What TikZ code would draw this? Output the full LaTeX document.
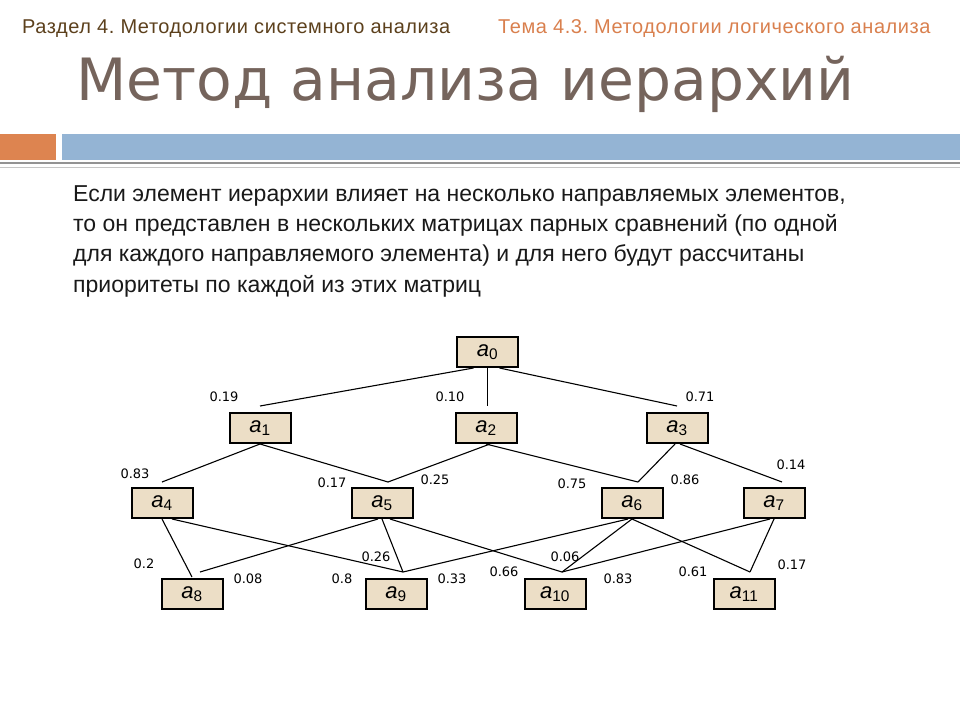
\documentclass[tikz,border=0pt]{standalone}
\usepackage{fontspec}
\setmainfont{Liberation Sans}
\newfontfamily\headfont[LetterSpace=2.8]{Liberation Sans}
\newfontfamily\labelfont{DejaVu Sans}
\frenchspacing

\begin{document}
\begin{tikzpicture}[x=1pt,y=-1pt,
    elem/.style={draw,fill=boxfill,line width=2pt,minimum width=61pt,
      minimum height=30pt,inner sep=0pt,font=\fontsize{22}{24}\selectfont},
    weight/.style={inner sep=0pt,font=\labelfont\fontsize{13}{15}\selectfont},
    link/.style={line width=1.1pt}]
      % Color definitions
      \definecolor{boxfill}{RGB}{236,222,198}  % tan
      \definecolor{bar}{RGB}{221,132,80}       % orange
      \definecolor{band}{RGB}{148,180,212}     % light blue
      \definecolor{titlec}{RGB}{117,100,92}
      \definecolor{partc}{RGB}{92,64,28}
      \definecolor{topicc}{RGB}{217,128,78}

      \useasboundingbox (0,0) rectangle (960,720);

      % Header
      \node[anchor=base west,inner sep=0pt,text=partc,font=\headfont\fontsize{20}{22}\selectfont]
        (part) at (22,33) {Раздел 4. Методологии системного анализа};
      \node[anchor=base west,inner sep=0pt,text=topicc,font=\headfont\fontsize{20}{22}\selectfont]
        (topic) at (498,33) {Тема 4.3. Методологии логического анализа};
      \node[anchor=base west,inner sep=0pt,text=titlec,font=\labelfont\fontsize{58.3}{64}\selectfont]
        (title) at (76,100) {Метод анализа иерархий};

      % Bars under the title
      \fill[bar] (0,134) rectangle (56,160);
      \fill[band] (62,134) rectangle (960,160);
      \draw[line width=2.5pt,gray!85] (0,163) -- (960,163);
      \draw[line width=1pt,gray!45] (0,167) -- (960,167);

      % Text (base = last line)
      \node[anchor=base west,inner sep=0pt,align=left,text=black!90,
        font=\fontsize{23}{30.3}\selectfont] (body) at (73,292)
        {Если элемент иерархии влияет на несколько направляемых элементов,\\
         то он представлен в нескольких матрицах парных сравнений (по одной\\
         для каждого направляемого элемента) и для него будут рассчитаны\\
         приоритеты по каждой из этих матриц};

      % Helper macro  {index}{x}{y}
      \newcommand{\elem}[3]{%
        \node[elem] (a#1) at (#2,#3) {\itshape a\textsubscript{\upshape #1}};}

      % Hierarchy
      \elem{0}{487.5}{352}
      \elem{1}{260}{428}
      \elem{2}{486}{428}
      \elem{3}{677}{428}
      \elem{4}{162}{503}
      \elem{5}{382}{503}
      \elem{6}{632}{503}
      \elem{7}{774}{503}
      \elem{8}{192}{594}
      \elem{9}{396}{594}
      \elem{10}{555}{594}
      \elem{11}{744}{594}

      % Links  parent/shift/child/shift/gap
      \foreach \p/\ps/\c/\cs/\g in {0/-14/1/0/6, 0/0/2/1.5/6, 0/12/3/0/6,
          1/0/4/0/5, 1/0/5/6/5, 2/4/5/6/5, 2/0/6/6/5, 3/-2/6/6/5, 3/3/7/8/5,
          4/0/8/0/1, 4/10/9/7/6, 5/-4/8/8/6, 5/0/9/7/6, 5/8/10/7/6,
          6/-4/9/7/6, 6/0/10/7/6, 6/0/11/6/6, 7/-4/10/7/6, 7/0/11/6/6}
        \draw[link] ([xshift=\ps pt]a\p.south) -- ([xshift=\cs pt,yshift=\g pt]a\c.north);

      % Weights
      \foreach \x/\y/\t [count=\i] in {224/397/0.19, 450/397/0.10, 700/397/0.71,
          135/474/0.83, 332/483/0.17, 435/480/0.25, 572/484/0.75, 685/480/0.86,
          791/465/0.14, 144/564/0.2, 248/579/0.08, 376/557/0.26, 342/579/0.8,
          452/579/0.33, 504/572/0.66, 565/557/0.06, 618/579/0.83, 693/572/0.61,
          792/565/0.17}
        \node[weight] (w\i) at (\x,\y) {\t};
    \end{tikzpicture}
\end{document}
